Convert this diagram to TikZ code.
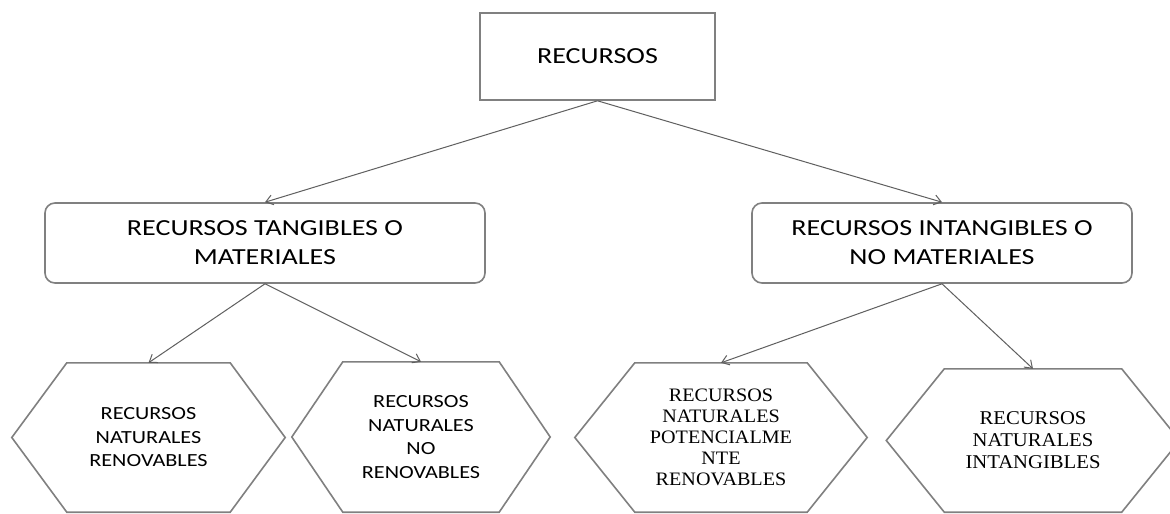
\documentclass[tikz,border=0pt]{standalone}
\usepackage{fontspec}
\setmainfont{Carlito}[FakeStretch=1.22]
\newfontfamily\hexsans{Carlito}[FakeStretch=1.2]
\newfontfamily\hexserif{Liberation Serif}[FakeStretch=1.06]
\usetikzlibrary{arrows.meta}
\definecolor{boxline}{RGB}{128,128,128}
\definecolor{arrowline}{RGB}{95,95,95}
\tikzset{
  x=1pt, y=-1pt,
  topbox/.style={draw=boxline, line width=1.6pt, fill=white, minimum width=235pt, minimum height=87pt,
    inner sep=0pt, align=center, font={\fontsize{23}{29}\selectfont}},
  midbox/.style={draw=boxline, line width=1.6pt, fill=white, rounded corners=10pt, minimum height=80pt,
    inner sep=0pt, align=center, font={\fontsize{23}{29}\selectfont}},
  hexnode/.style={shape=rectangle, draw=none, inner sep=0pt, align=center},
  hexsansfont/.style={font={\hexsans\fontsize{18.5}{23.5}\selectfont}},
  hexseriffont/.style={font={\hexserif\fontsize{19}{21}\selectfont}},
  hexline/.style={draw=boxline, line width=1.6pt, line join=miter},
  conn/.style={draw=arrowline, line width=1pt, -{Straight Barb[length=7pt,width=10pt,line width=1pt]}}
}
\begin{document}
\begin{tikzpicture}
\clip (0,0) rectangle (1170,514);
\useasboundingbox (0,0) rectangle (1170,514);
\fill[white] (0,0) rectangle (1170,514);

\node[topbox] (top) at (597.5,56.5) {RECURSOS};
\node[midbox, minimum width=440pt] (tan) at (265,243) {RECURSOS TANGIBLES O\\MATERIALES};
\node[midbox, minimum width=380pt] (intan) at (942,243) {RECURSOS INTANGIBLES O\\NO MATERIALES};

\node[hexnode, hexsansfont, minimum width=273pt, minimum height=149pt] (h1) at (148.5,437.5) {RECURSOS\\NATURALES\\RENOVABLES};
\node[hexnode, hexsansfont, minimum width=258pt, minimum height=150pt] (h2) at (421,437) {RECURSOS\\NATURALES\\NO\\RENOVABLES};
\node[hexnode, hexseriffont, minimum width=292pt, minimum height=149pt] (h3) at (721,437.5) {RECURSOS\\NATURALES\\POTENCIALME\\NTE\\RENOVABLES};
\node[hexnode, hexseriffont, font={\hexserif\fontsize{19.5}{22}\selectfont}, minimum width=293pt, minimum height=143pt] (h4) at (1033,440.5) {RECURSOS\\NATURALES\\INTANGIBLES};

\foreach \n/\d in {h1/55pt, h2/51pt, h3/60pt, h4/58pt}{
  \draw[hexline] (\n.west) -- ([xshift=\d]\n.north west) -- ([xshift=-\d]\n.north east) -- (\n.east)
    -- ([xshift=-\d]\n.south east) -- ([xshift=\d]\n.south west) -- cycle;
}

\draw[conn] (top.south) -- (tan.north);
\draw[conn] (top.south) -- (intan.north);
\draw[conn] (tan.south) -- (h1.north);
\draw[conn] (tan.south) -- (h2.north);
\draw[conn] (intan.south) -- (h3.north);
\draw[conn] (intan.south) -- (h4.north);
\end{tikzpicture}
\end{document}
